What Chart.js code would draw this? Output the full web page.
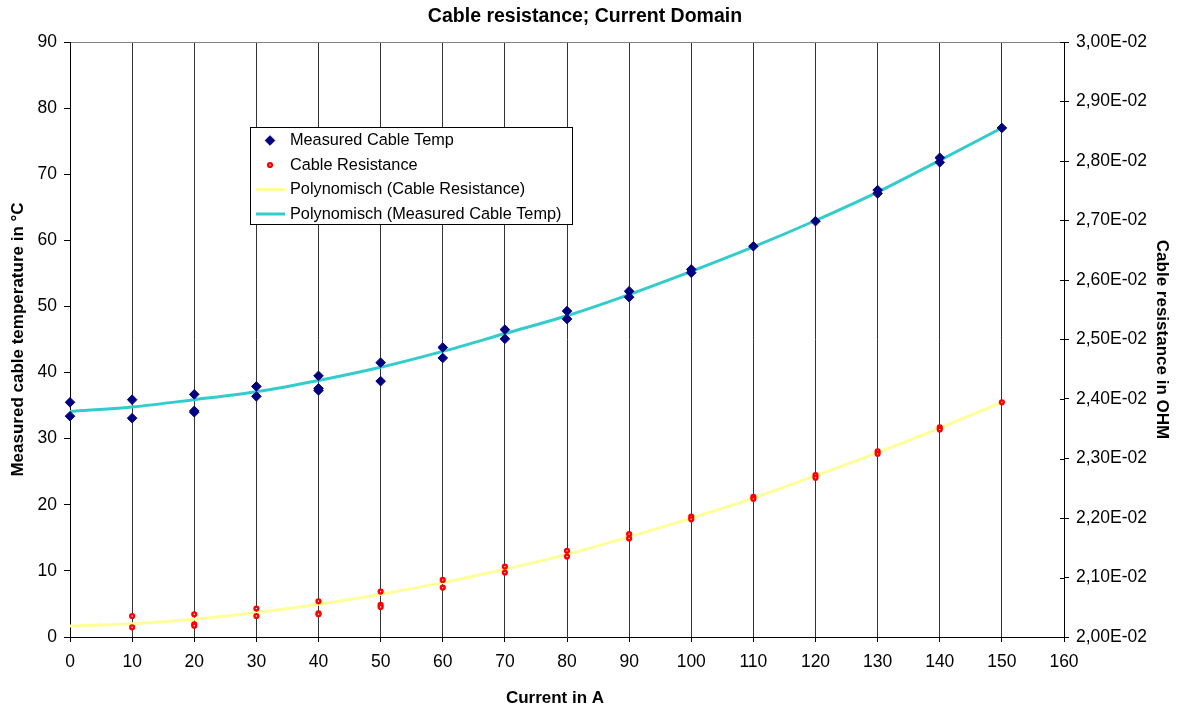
<!DOCTYPE html>
<html>
<head>
<meta charset="utf-8">
<title>Cable resistance; Current Domain</title>
<script src="https://cdn.jsdelivr.net/npm/chart.js@4.4.1/dist/chart.umd.min.js"></script>
<style>
  html, body { margin: 0; padding: 0; background: #ffffff; }
  #wrap { width: 1179px; height: 711px; position: relative; }
</style>
</head>
<body>
<div id="wrap"><canvas id="chart" width="1179" height="711"></canvas></div>
<script>
// Measured cable temperature (°C) against load current (A)
const currentTemp = [0, 0, 10, 10, 20, 20, 20, 30, 30, 40, 40, 40, 50, 50, 60, 60, 70, 70, 80, 80, 90, 90, 100, 100, 110, 120, 130, 130, 140, 140, 150];
const measuredTemp = [35.5, 33.4, 35.9, 33.1, 36.7, 34.2, 34.0, 37.9, 36.4, 39.5, 37.6, 37.3, 41.5, 38.7, 43.8, 42.2, 46.5, 45.1, 49.3, 48.1, 52.3, 51.4, 55.6, 55.1, 59.1, 62.9, 67.6, 67.1, 72.5, 71.8, 77.0];

// Cable resistance (ohm) against load current (A)
const currentRes = [10, 10, 20, 20, 20, 30, 30, 40, 40, 40, 50, 50, 50, 60, 60, 70, 70, 80, 80, 90, 90, 100, 100, 110, 110, 120, 120, 130, 130, 140, 140, 150];
const cableResistance = [0.020353, 0.020163, 0.020382, 0.020213, 0.020191, 0.020477, 0.020353, 0.020600, 0.020399, 0.020382, 0.020763, 0.020539, 0.020506, 0.020960, 0.020830, 0.021183, 0.021082, 0.021448, 0.021352, 0.021729, 0.021656, 0.022022, 0.021978, 0.022356, 0.022322, 0.022722, 0.022678, 0.023122, 0.023078, 0.023522, 0.023489, 0.023944];

// Polynomial trend lines
const trendCurrent = [0, 10, 20, 30, 40, 50, 60, 70, 80, 90, 100, 110, 120, 130, 140, 150];
const trendTemp = [34.1, 34.8, 35.9, 37.1, 38.8, 40.8, 43.2, 45.9, 48.6, 51.8, 55.3, 59.0, 63.0, 67.3, 72.1, 77.0];
const trendRes = [0.020186, 0.020224, 0.020297, 0.020410, 0.020549, 0.020718, 0.020914, 0.021139, 0.021389, 0.021683, 0.021998, 0.022333, 0.022711, 0.023100, 0.023511, 0.023944];

// Axis ranges and tick steps
const tempTicks = [0, 90, 10];
const resTicks = [0.02, 0.03, 0.001];
const currentTicks = [0, 160, 10];

const FONT = '"Liberation Sans", Arial, Helvetica, sans-serif';
const pairs = (xs, ys) => xs.map((x, i) => ({ x: x, y: ys[i] }));

// Resistance labels in the "2,40E-02" style
function sciLabel(v) {
  const parts = Number(v).toExponential(2).split('e');
  const ex = parseInt(parts[1], 10);
  return parts[0].replace('.', ',') + 'E' + (ex < 0 ? '-' : '+') + String(Math.abs(ex)).padStart(2, '0');
}

const legendOrder = [0, 1, 3, 2];

const annotations = {
  id: 'annotations',
  afterDatasetsDraw(chart) {
    const ctx = chart.ctx;
    const ds = chart.data.datasets;
    ctx.save();

    // right axis tick marks cross the axis line
    const yr = chart.scales.y1;
    ctx.strokeStyle = '#000000';
    ctx.lineWidth = 1;
    yr.ticks.forEach((t) => {
      const py = Math.round(yr.getPixelForValue(t.value)) + 0.5;
      ctx.beginPath();
      ctx.moveTo(yr.left - 4, py);
      ctx.lineTo(yr.left, py);
      ctx.stroke();
    });

    // legend box
    ctx.fillStyle = '#ffffff';
    ctx.fillRect(250.5, 127.5, 322, 97);
    ctx.strokeStyle = '#000000';
    ctx.lineWidth = 1;
    ctx.strokeRect(250.5, 127.5, 322, 97);

    ctx.font = '16.3px ' + FONT;
    ctx.textBaseline = 'middle';
    ctx.textAlign = 'left';
    legendOrder.forEach((idx, row) => {
      const d = ds[idx];
      const y = 140.5 + row * 24.5;
      if (d.showLine) {
        ctx.strokeStyle = d.borderColor;
        ctx.lineWidth = d.borderWidth;
        ctx.beginPath();
        ctx.moveTo(256, y);
        ctx.lineTo(285, y);
        ctx.stroke();
      } else {
        ctx.fillStyle = d.backgroundColor;
        ctx.strokeStyle = d.borderColor;
        ctx.lineWidth = d.borderWidth;
        Chart.helpers.drawPoint(ctx, {
          pointStyle: d.pointStyle,
          radius: d.pointRadius,
          rotation: 0,
          borderWidth: d.borderWidth
        }, 270, y);
      }
      ctx.fillStyle = '#000000';
      ctx.fillText(d.label, 290, y + 0.5);
    });

    // chart title
    ctx.font = 'bold 19.5px ' + FONT;
    ctx.textAlign = 'center';
    ctx.fillText('Cable resistance; Current Domain', 585, 17);

    // x axis title
    ctx.font = 'bold 17px ' + FONT;
    ctx.fillText('Current in A', 555, 698);
    ctx.restore();
  }
};

new Chart(document.getElementById('chart'), {
  type: 'scatter',
  data: {
    datasets: [
      {
        label: 'Measured Cable Temp',
        data: pairs(currentTemp, measuredTemp),
        yAxisID: 'y',
        clip: false,
        pointStyle: 'rectRot',
        pointRadius: 4.8,
        pointHoverRadius: 4.8,
        backgroundColor: '#000080',
        borderColor: '#000080',
        borderWidth: 1
      },
      {
        label: 'Cable Resistance',
        data: pairs(currentRes, cableResistance),
        yAxisID: 'y1',
        clip: false,
        pointStyle: 'circle',
        pointRadius: 1.9,
        pointHoverRadius: 1.9,
        backgroundColor: '#ffffff',
        borderColor: '#ff0000',
        borderWidth: 2.4
      },
      {
        label: 'Polynomisch (Measured Cable Temp)',
        data: pairs(trendCurrent, trendTemp),
        yAxisID: 'y',
        showLine: true,
        pointRadius: 0,
        borderColor: '#33cccc',
        backgroundColor: '#33cccc',
        borderWidth: 3,
        cubicInterpolationMode: 'monotone'
      },
      {
        label: 'Polynomisch (Cable Resistance)',
        data: pairs(trendCurrent, trendRes),
        yAxisID: 'y1',
        showLine: true,
        pointRadius: 0,
        borderColor: '#ffff99',
        backgroundColor: '#ffff99',
        borderWidth: 3,
        cubicInterpolationMode: 'monotone'
      }
    ]
  },
  options: {
    responsive: false,
    animation: false,
    events: [],
    layout: { padding: { top: 42, left: 0, right: 0, bottom: 0 } },
    plugins: {
      legend: { display: false },
      title: { display: false },
      tooltip: { enabled: false }
    },
    scales: {
      x: {
        type: 'linear',
        position: 'bottom',
        min: currentTicks[0],
        max: currentTicks[1],
        afterFit(s) { s.height = 74; },
        border: { display: true, color: '#000000', width: 1 },
        grid: {
          color: '#333333',
          lineWidth: 1,
          drawTicks: true,
          tickLength: 5,
          tickColor: '#000000'
        },
        ticks: {
          stepSize: currentTicks[2],
          autoSkip: false,
          maxRotation: 0,
          padding: 10,
          color: '#000000',
          font: { family: FONT, size: 17.5 }
        }
      },
      y: {
        type: 'linear',
        position: 'left',
        min: tempTicks[0],
        max: tempTicks[1],
        afterFit(s) { s.width = 70; },
        border: { display: true, color: '#000000', width: 1 },
        grid: {
          color: (c) => (c.tick && c.tick.value === tempTicks[1]) ? '#808080' : 'rgba(0,0,0,0)',
          lineWidth: 1,
          drawTicks: true,
          tickLength: 6,
          tickColor: '#000000'
        },
        ticks: {
          stepSize: tempTicks[2],
          padding: 7,
          color: '#000000',
          font: { family: FONT, size: 17.5 }
        },
        title: {
          display: true,
          text: 'Measured cable temperature in °C',
          color: '#000000',
          padding: { top: 8, bottom: 0 },
          font: { family: FONT, size: 17, weight: 'bold' }
        }
      },
      y1: {
        type: 'linear',
        position: 'right',
        min: resTicks[0],
        max: resTicks[1],
        afterFit(s) { s.width = 115; },
        border: { display: true, color: '#000000', width: 1 },
        grid: {
          drawOnChartArea: false,
          drawTicks: true,
          tickLength: 5,
          tickColor: '#000000'
        },
        ticks: {
          stepSize: resTicks[2],
          padding: 7,
          color: '#000000',
          font: { family: FONT, size: 17.5 },
          callback: (v) => sciLabel(v)
        },
        title: {
          display: true,
          text: 'Cable resistance in OHM',
          color: '#000000',
          padding: { top: 7, bottom: 0 },
          font: { family: FONT, size: 17, weight: 'bold' }
        }
      }
    }
  },
  plugins: [annotations]
});
</script>
</body>
</html>
